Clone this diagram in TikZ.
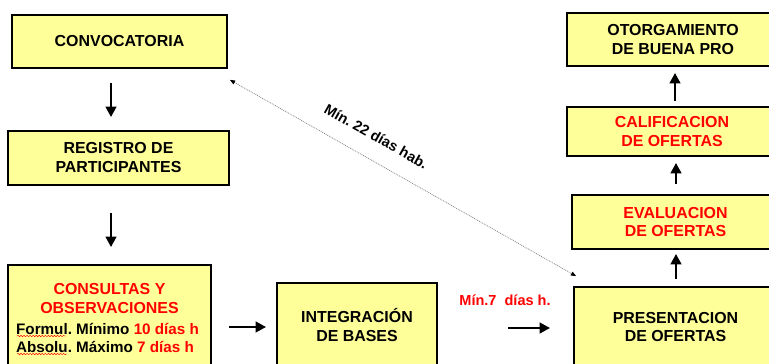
\documentclass[tikz,border=0pt]{standalone}
\usepackage{fontspec}
\setmainfont{Liberation Sans}
\frenchspacing
\usetikzlibrary{arrows.meta,decorations.pathmorphing}
\definecolor{boxyellow}{RGB}{255,255,153}
\tikzset{
	box/.style={draw=black, line width=1.5pt, fill=boxyellow, align=center, inner sep=0pt, font=\bfseries\fontsize{13.6}{16.2}\selectfont},
	flow/.style={line width=2.4pt, -{Triangle[length=9pt,width=9pt]}},
	dotarr/.style={gray, line width=0.6pt, dash pattern=on 0.8pt off 0.8pt, {Triangle[length=4.5pt,width=3.5pt,color=black]}-{Triangle[length=4.5pt,width=3.5pt,color=black]}},
	squiggle/.style={red, line width=0.4pt, decorate, decoration={snake, amplitude=0.6pt, segment length=2.6pt}}
}

\begin{document}
\begin{tikzpicture}[x=0.03cm, y=-0.03cm]
			%%%%% START %%%%%
			\useasboundingbox (0,0) rectangle (769,363);
			\clip (0,0) rectangle (769,363);
			
			\node[box, minimum width=6.45cm, minimum height=1.59cm] (conv) at (119.5,41.5) {CONVOCATORIA};
			\node[box, minimum width=6.63cm, minimum height=1.62cm] (reg) at (118.5,158) {REGISTRO DE\\PARTICIPANTES};
			\node[box, minimum width=6.09cm, minimum height=3.18cm] (cons) at (109.5,318) {\textcolor{red}{CONSULTAS Y}\\\textcolor{red}{OBSERVACIONES}\\[1.7pt]
				\makebox[5.6cm][l]{\fontsize{13}{15}\selectfont Formul. Mínimo \textcolor{red}{10 días h}}\\[-0.9pt]
				\makebox[5.6cm][l]{\fontsize{13}{15}\selectfont Absolu. Máximo \textcolor{red}{7 días h}}};
			\node[box, minimum width=4.8cm, minimum height=2.52cm] (integ) at (357,325) {INTEGRACIÓN\\DE BASES};
			
			\node[box, minimum width=6.09cm, minimum height=2.4cm] (pres) at (675.5,327) {PRESENTACION\\DE OFERTAS};
			\node[box, minimum width=6.21cm, minimum height=1.62cm] (eval) at (675.5,222) {\textcolor{red}{EVALUACION}\\\textcolor{red}{DE OFERTAS}};
			\node[box, minimum width=6.3cm, minimum height=1.47cm] (calif) at (672,131.5) {\textcolor{red}{CALIFICACION}\\\textcolor{red}{DE OFERTAS}};
			\node[box, minimum width=6.36cm, minimum height=1.59cm] (otorg) at (673,39.5) {OTORGAMIENTO\\DE BUENA PRO};
			
			% spell-check marks
			\draw[squiggle] (17,336) -- (66,336);
			\draw[squiggle] (17,354) -- (67,354);
			
			\node[font=\bfseries\fontsize{12.4}{15}\selectfont, text=red] (lab7) at (505,300) {Mín.7\ \ días h.};
			
			\draw[flow] ([shift={(-8.5,14)}]conv.south) -- ([shift={(-7.5,-13)}]reg.north);
			\draw[flow] ([shift={(-7.5,27)}]reg.south) -- ([shift={(1.5,-17)}]cons.north);
			\draw[flow] ([shift={(17,9)}]cons.east) -- ([shift={(-10,2)}]integ.west);
			\draw[flow] ([shift={(70,3)}]integ.east) -- ([shift={(-23,1)}]pres.west);
			\draw[flow] ([shift={(0.5,-7)}]pres.north) -- ([shift={(0.5,4)}]eval.south);
			\draw[flow] ([shift={(0.5,-10)}]eval.north) -- ([shift={(4,6)}]calif.south);
			\draw[flow] ([shift={(3,-5)}]calif.north) -- ([shift={(2,6)}]otorg.south);
			
			\draw[dotarr] ([shift={(2,11)}]conv.south east) -- ([shift={(3,-10)}]pres.north west)
				node[pos=0.39, sloped, above=0.4cm, text=black, font=\bfseries\fontsize{12.4}{15}\selectfont] (lab22) {Mín. 22 días hab.};
			
			%%%%% END %%%%%
\end{tikzpicture}
\end{document}
